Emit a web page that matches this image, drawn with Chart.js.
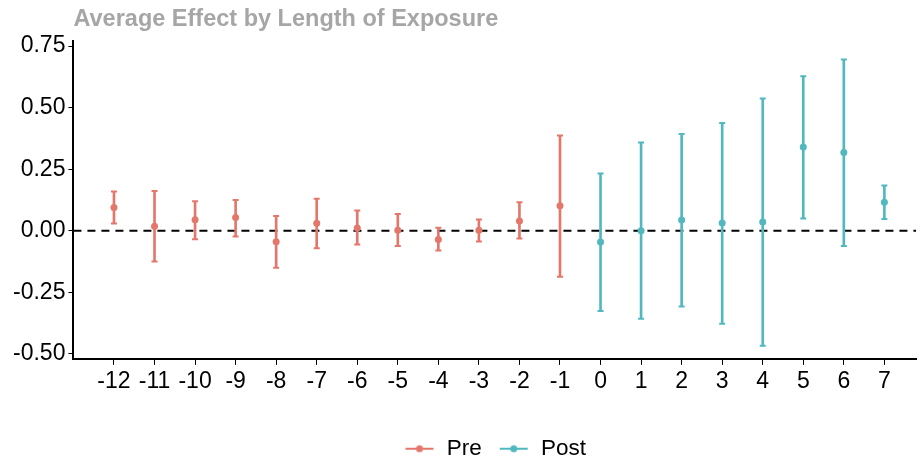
<!DOCTYPE html>
<html>
<head>
<meta charset="utf-8">
<script src="https://cdn.jsdelivr.net/npm/chart.js@4"></script>
<style>
  body { margin: 0; background: #fff; }
  #wrap { width: 921px; height: 464px; }
</style>
</head>
<body>
<div id="wrap"><canvas id="effectChart"></canvas></div>
<script>
// periods relative to exposure (tick labels too)
const periods = [-12, -11, -10, -9, -8, -7, -6, -5, -4, -3, -2, -1, 0, 1, 2, 3, 4, 5, 6, 7];
const yTicks = [-0.5, -0.25, 0, 0.25, 0.5, 0.75];

// pre period estimates (-12 .. -1)
const preX = [-12, -11, -10, -9, -8, -7, -6, -5, -4, -3, -2, -1];
const preEst = [0.095, 0.019, 0.045, 0.054, -0.044, 0.031, 0.012, 0.002, -0.035, 0.002, 0.040, 0.102];
const preLow = [0.030, -0.125, -0.034, -0.023, -0.150, -0.071, -0.055, -0.062, -0.080, -0.043, -0.031, -0.186];
const preHigh = [0.160, 0.162, 0.120, 0.125, 0.060, 0.130, 0.083, 0.068, 0.013, 0.046, 0.116, 0.387];

// post period estimates (0 .. 7)
const postX = [0, 1, 2, 3, 4, 5, 6, 7];
const postEst = [-0.045, 0.000, 0.044, 0.032, 0.036, 0.340, 0.318, 0.116];
const postLow = [-0.326, -0.357, -0.307, -0.377, -0.467, 0.050, -0.062, 0.048];
const postHigh = [0.233, 0.359, 0.393, 0.438, 0.537, 0.628, 0.696, 0.184];

const preColor = '#E4776B';
const postColor = '#52B8C0';
const fontFam = '"Liberation Sans", Arial, sans-serif';

// helpers to turn arrays into chart points
const pts = (xs, ys) => xs.map((x, i) => ({ x: x, y: ys[i] }));
const ranges = (xs, lo, hi) => xs.map((x, i) => ({ x: x, y: [lo[i], hi[i]] }));

// legend key: a short line with a dot on it
function legendKey(color) {
    const c = document.createElement('canvas');
    c.width = 30; c.height = 10;
    const g = c.getContext('2d');
    g.strokeStyle = color; g.lineWidth = 2;
    g.beginPath(); g.moveTo(1, 5); g.lineTo(29, 5); g.stroke();
    g.fillStyle = color;
    g.beginPath(); g.arc(15, 5, 3.5, 0, Math.PI * 2); g.fill();
    return c;
}
const keys = { Pre: legendKey(preColor), Post: legendKey(postColor) };

// dashed reference line at zero
const zeroLine = {
    id: 'zeroLine',
    beforeDatasetsDraw(chart) {
        const { ctx, chartArea, scales } = chart;
        const y = scales.y.getPixelForValue(0);
        ctx.save();
        ctx.strokeStyle = '#000';
        ctx.lineWidth = 2;
        ctx.setLineDash([8, 6]);
        ctx.beginPath();
        ctx.moveTo(chartArea.left, y);
        ctx.lineTo(chartArea.right, y);
        ctx.stroke();
        ctx.restore();
    }
};

const capStyle = (color) => ({
    type: 'line', showLine: false, pointStyle: 'line', pointRadius: 3,
    pointBorderWidth: 2, borderColor: color, pointBorderColor: color, pointHoverRadius: 3
});

const chart = new Chart(document.getElementById('effectChart'), {
    type: 'bar',
    data: {
        datasets: [
            { label: 'preBar', type: 'bar', data: ranges(preX, preLow, preHigh), backgroundColor: preColor, barThickness: 2, grouped: false },
            { label: 'postBar', type: 'bar', data: ranges(postX, postLow, postHigh), backgroundColor: postColor, barThickness: 2, grouped: false },
            Object.assign({ label: 'preHi', data: pts(preX, preHigh) }, capStyle(preColor)),
            Object.assign({ label: 'preLo', data: pts(preX, preLow) }, capStyle(preColor)),
            Object.assign({ label: 'postHi', data: pts(postX, postHigh) }, capStyle(postColor)),
            Object.assign({ label: 'postLo', data: pts(postX, postLow) }, capStyle(postColor)),
            { label: 'Pre', type: 'line', showLine: false, data: pts(preX, preEst), pointRadius: 3.5, pointBackgroundColor: preColor, pointBorderWidth: 0, borderColor: preColor, backgroundColor: preColor },
            { label: 'Post', type: 'line', showLine: false, data: pts(postX, postEst), pointRadius: 3.5, pointBackgroundColor: postColor, pointBorderWidth: 0, borderColor: postColor, backgroundColor: postColor }
        ]
    },
    options: {
        responsive: true,
        maintainAspectRatio: false,
        animation: false,
        layout: { padding: { left: 10, right: 1, top: 5, bottom: -6 } },
        scales: {
            x: {
                type: 'linear',
                offset: false,
                min: -13,
                max: 7.78,
                afterBuildTicks: (axis) => { axis.ticks = periods.map(v => ({ value: v })); },
                afterFit: (axis) => { axis.height += 23; },
                ticks: { color: '#000', font: { family: fontFam, size: 23 }, padding: 3, maxRotation: 0, autoSkip: false },
                grid: { offset: false, drawOnChartArea: false, drawTicks: true, tickLength: 6, color: '#000', lineWidth: 1 },
                border: { display: true, color: '#000', width: 2 }
            },
            y: {
                min: -0.52,
                max: 0.77,
                afterBuildTicks: (axis) => { axis.ticks = yTicks.map(v => ({ value: v })); },
                ticks: { color: '#000', font: { family: fontFam, size: 23 }, padding: 3, callback: (v) => v.toFixed(2) },
                grid: { drawOnChartArea: false, drawTicks: true, tickLength: 5, color: '#000', lineWidth: 1 },
                border: { display: true, color: '#000', width: 2 }
            }
        },
        plugins: {
            title: {
                display: true,
                fullSize: false,
                align: 'start',
                text: 'Average Effect by Length of Exposure',
                color: '#A6A6A6',
                font: { family: fontFam, size: 23.5, weight: 'bold' },
                padding: { top: 0, bottom: 8 }
            },
            legend: {
                position: 'bottom',
                fullSize: false,
                labels: {
                    filter: (item) => item.text === 'Pre' || item.text === 'Post',
                    usePointStyle: true,
                    pointStyleWidth: 32,
                    generateLabels: (ch) => ch.data.datasets.map((ds, i) => ({
                        text: ds.label, pointStyle: keys[ds.label] || 'circle', fillStyle: ds.backgroundColor,
                        strokeStyle: ds.borderColor, lineWidth: 0, datasetIndex: i, fontColor: '#000'
                    })),
                    color: '#000',
                    font: { family: fontFam, size: 22.5 },
                    padding: 16
                }
            },
            tooltip: { enabled: false }
        }
    },
    plugins: [zeroLine]
});
</script>
</body>
</html>
